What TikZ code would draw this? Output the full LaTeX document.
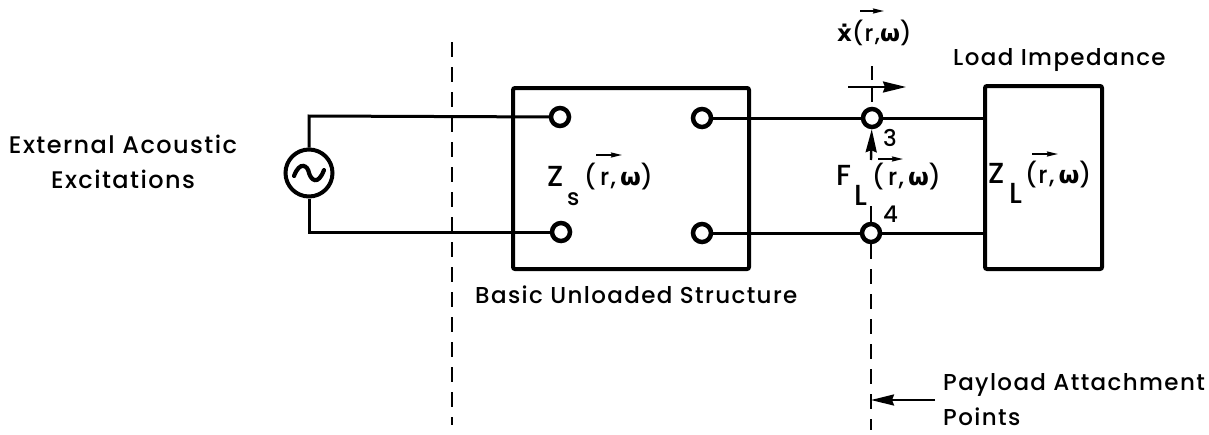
\documentclass[tikz,border=0pt]{standalone}
\usepackage{fontspec}
\setmainfont[LetterSpace=6]{Poppins Medium}
\newfontfamily\omf{DejaVu Sans}
\usetikzlibrary{arrows.meta}
\tikzset{
 wire/.style={line width=3pt,black},
 box/.style={draw,line width=4pt,rounded corners=2pt,inner sep=0pt},
 term/.style={circle,draw,line width=4.5pt,fill=white,minimum size=18pt,inner sep=0pt},
 cut/.style={line width=2.4pt,dash pattern=on 15pt off 10pt},
 lbl/.style={font=\fontsize{23}{35}\selectfont,inner sep=0pt},
 big/.style={font=\fontsize{24}{26}\selectfont,inner sep=0pt},
 capl/.style={font=\fontsize{29}{30}\selectfont,inner sep=0pt},
 tip/.style={-{Stealth[length=23pt,width=11pt,inset=2pt]},line width=2.4pt},
 vec/.style={-{Stealth[length=11pt,width=5pt,inset=1pt]},line width=1.6pt}
}
\newcommand{\om}{{\omf\bfseries ω}}
\begin{document}
\begin{tikzpicture}[x=1pt,y=-1pt]
\useasboundingbox (0,0) rectangle (1209,434);
\node[box,anchor=north west,minimum width=236pt,minimum height=181pt] (bs) at (511,86) {};
\node[box,anchor=north west,minimum width=117pt,minimum height=183pt] (bl) at (983,84) {};
\coordinate (ja) at (309,116);
\coordinate (jb) at (309,232);
\node[circle,draw,line width=4pt,minimum size=47pt,inner sep=0pt] (src) at (309,173) {};
\draw[line width=4.2pt,line cap=round] (294,176) .. controls (300,160) and (308,166) .. (309,173) .. controls (311,180) and (318,186) .. (324,170);
\node[term] (t1) at (560,117) {};
\node[term] (t2) at (561,232) {};
\node[term] (t5) at (702,118) {};
\node[term] (t6) at (702,233) {};
\node[term] (t3) at (872,118) {};
\node[term] (t4) at (871,233) {};
\draw[wire] (src) -- (ja) -- (t1);
\draw[wire] (src) -- (jb) -- (t2);
\draw[wire] (t5) -- (t3);
\draw[wire] (t3) -- (t3-|bl.west);
\draw[wire] (t6) -- (t4);
\draw[wire] (t4) -- (t4-|bl.west);
\coordinate (c1a) at (452,42);
\coordinate (c1b) at (452,425);
\draw[cut] (c1a) -- (c1b);
\coordinate (c2a) at (872,66);
\draw[cut,dash pattern=on 14pt off 8pt] (c2a) -- (t3);
\coordinate (c3a) at (871,206);
\draw[cut,dash pattern=on 22pt off 0pt] (c3a) -- (t4);
\coordinate (c3b) at (871,430);
\draw[cut] (t4) -- (c3b);
\coordinate (va) at (848,87);
\coordinate (vb) at (906,87);
\draw[tip] (va) -- (vb);
\coordinate (fb) at (871,160);
\draw[tip] (fb) -- (t3);
\coordinate (pa) at (935,400);
\coordinate (pb) at (871,400);
\draw[tip] (pa) -- (pb);
\node[lbl,font=\fontsize{24}{35}\selectfont,align=center] (ext) at (123,162) {External Acoustic\\Excitations};
\node[lbl,anchor=base west] (bu) at (475,303) {Basic Unloaded Structure};
\node[lbl,anchor=base west] (li) at (953,65) {Load Impedance};
\node[lbl,align=left,anchor=west] (pay) at (943,400) {Payload Attachment\\Points};
\node[lbl,anchor=base west] (xt) at (837,41) {{\omf\bfseries ẋ}(r,\om)};
\node[capl,anchor=base west] (zs) at (547,186) {Z};
\node[lbl,anchor=base west] (zss) at (567,205) {s};
\node[big,anchor=base west] (zsa) at (584,185) {(\,r,\,\om)};
\node[capl,anchor=base west] (fl) at (836,185) {F};
\node[capl,anchor=base west] (fls) at (854,205) {L};
\node[big,anchor=base west] (fla) at (872,185) {(\,r,\,\om)};
\node[capl,anchor=base west] (zl) at (988,183) {Z};
\node[capl,anchor=base west] (zls) at (1009,203) {L};
\node[big,anchor=base west] (zla) at (1025,183) {(r,\,\om)};
\node[lbl,anchor=base west] (n3) at (883,146) {3};
\node[lbl,anchor=base west] (n4) at (883,222) {4};
\coordinate (a1) at (860,11); \coordinate (a2) at (884,11);
\coordinate (a3) at (878,159); \coordinate (a4) at (903,159);
\coordinate (a5) at (1032,154); \coordinate (a6) at (1058,154);
\coordinate (a7) at (596,155); \coordinate (a8) at (622,155);
\draw[vec] (a1) -- (a2);
\draw[vec] (a3) -- (a4);
\draw[vec] (a5) -- (a6);
\draw[vec] (a7) -- (a8);
\end{tikzpicture}
\end{document}
